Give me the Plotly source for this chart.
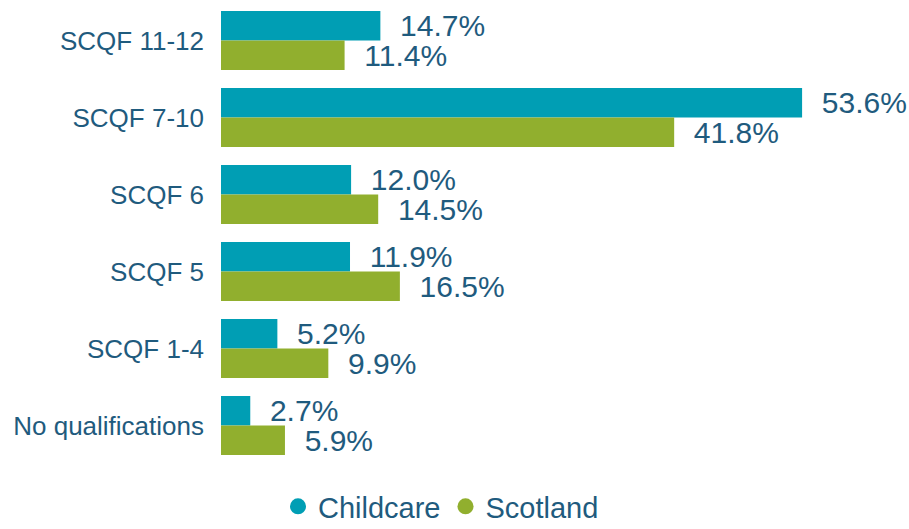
import plotly.graph_objects as go

categories = ["SCQF 11-12", "SCQF 7-10", "SCQF 6", "SCQF 5", "SCQF 1-4", "No qualifications"]
childcare = [14.7, 53.6, 12.0, 11.9, 5.2, 2.7]
scotland = [11.4, 41.8, 14.5, 16.5, 9.9, 5.9]

TEAL = "#009EB4"
GREEN = "#91AF2E"
TEXT = "#1F5B7E"
FONT = "Liberation Sans, Arial, sans-serif"

fig = go.Figure()
for name, vals, col in [("Childcare", childcare, TEAL), ("Scotland", scotland, GREEN)]:
    fig.add_trace(go.Bar(
        y=categories, x=vals, orientation="h", name=name,
        marker=dict(color=col, line=dict(width=0)),
        texttemplate="  %{x:.1f}%", textposition="outside",
        constraintext="none",
        textfont=dict(size=30, color=TEXT, family=FONT),
        cliponaxis=False, showlegend=False,
    ))
    fig.add_trace(go.Scatter(
        x=[None], y=[None], mode="markers", name=name,
        marker=dict(symbol="circle", size=22, color=col),
    ))

fig.update_layout(
    width=909, height=529,
    margin=dict(l=221, r=5, t=2, b=65, autoexpand=False),
    paper_bgcolor="white", plot_bgcolor="white",
    barmode="group", bargap=0.234, bargroupgap=0,
    font=dict(family=FONT, color=TEXT),
    xaxis=dict(range=[0, 63], visible=False, showgrid=False, zeroline=False,
               automargin=False),
    yaxis=dict(autorange="reversed", showgrid=False, zeroline=False,
               tickfont=dict(size=26, color=TEXT, family=FONT),
               ticklabelstandoff=16, showline=False, automargin=False),
    legend=dict(orientation="h", x=(441 - 221) / 683, xanchor="center",
                y=-0.092, yanchor="middle",
                font=dict(size=29, color=TEXT, family=FONT),
                itemwidth=30, tracegroupgap=0),
)

fig.write_html(
    "out.html",
    config={"displayModeBar": False},
    post_script="document.body.style.margin='0';document.body.style.overflow='hidden';",
)
